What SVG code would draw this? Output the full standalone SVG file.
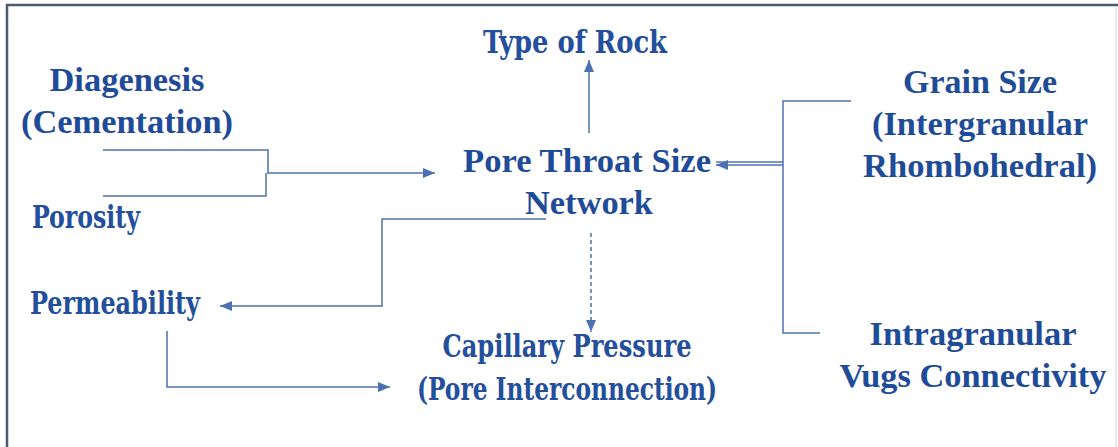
<svg xmlns="http://www.w3.org/2000/svg" width="1118" height="447" viewBox="0 0 1118 447">
<style>
.b{font-family:"Liberation Serif","Times New Roman",serif;font-weight:bold;font-size:34px;fill:#1f4c98;text-anchor:middle}
.d{font-family:"DejaVu Serif Condensed","DejaVu Serif",serif;font-weight:bold;font-size:32px;fill:#234f9c;text-anchor:middle}
.c{fill:none;stroke:#4d70b2;stroke-width:1.5}
</style>
<defs>
<marker id="ah" viewBox="0 0 12 10" refX="12" refY="5" markerWidth="12" markerHeight="10" markerUnits="userSpaceOnUse" orient="auto">
<path d="M0,0 L12,5 L0,10 Z" fill="#4d70b2"/>
</marker>
</defs>
<rect width="1118" height="447" fill="#ffffff"/>
<g id="frame">
<line x1="6" y1="5" x2="1118" y2="5" stroke="#4b5a72" stroke-width="2.5"/>
<line x1="7" y1="4" x2="7" y2="447" stroke="#4b5a72" stroke-width="2.5"/>
<line x1="1116" y1="6" x2="1116" y2="447" stroke="#d3d6dc" stroke-width="1"/>
</g>
<g id="connectors">
<path class="c" d="M103,150 H268 V173"/>
<path class="c" d="M103,196 H266 V173"/>
<path class="c" d="M267,173 H435" marker-end="url(#ah)"/>
<path class="c" d="M589,133 V60" marker-end="url(#ah)"/>
<path class="c" d="M851,101 H783 V333 H820"/>
<path class="c" d="M783,162 H716"/>
<path class="c" d="M783,165 H716" marker-end="url(#ah)"/>
<path class="c" d="M546,219 H382 V306 H220" marker-end="url(#ah)"/>
<path class="c" d="M591,233 V332" stroke-dasharray="4,3" marker-end="url(#ah)"/>
<path class="c" d="M167,331 V387 H390" marker-end="url(#ah)"/>
</g>
<g id="type-of-rock"><text class="d" x="575" y="53" textLength="184" lengthAdjust="spacingAndGlyphs">Type of Rock</text></g>
<g id="diagenesis">
<text class="b" x="127" y="91" textLength="155" lengthAdjust="spacingAndGlyphs">Diagenesis</text>
<text class="b" x="127" y="133" textLength="212" lengthAdjust="spacingAndGlyphs">(Cementation)</text>
</g>
<g id="porosity"><text class="d" x="86" y="228" textLength="108" lengthAdjust="spacingAndGlyphs">Porosity</text></g>
<g id="pore-throat">
<text class="b" x="587" y="172" textLength="248" lengthAdjust="spacingAndGlyphs">Pore Throat Size</text>
<text class="b" x="589" y="214" textLength="128" lengthAdjust="spacingAndGlyphs">Network</text>
</g>
<g id="permeability"><text class="d" x="115" y="314" textLength="170" lengthAdjust="spacingAndGlyphs">Permeability</text></g>
<g id="capillary">
<text class="d" x="567" y="357" textLength="249" lengthAdjust="spacingAndGlyphs">Capillary Pressure</text>
<text class="d" x="567" y="400" textLength="300" lengthAdjust="spacingAndGlyphs">(Pore Interconnection)</text>
</g>
<g id="grain-size">
<text class="b" x="980" y="93" textLength="154" lengthAdjust="spacingAndGlyphs">Grain Size</text>
<text class="b" x="980" y="135" textLength="216" lengthAdjust="spacingAndGlyphs">(Intergranular</text>
<text class="b" x="980" y="177" textLength="234" lengthAdjust="spacingAndGlyphs">Rhombohedral)</text>
</g>
<g id="intragranular">
<text class="b" x="973" y="345" textLength="207" lengthAdjust="spacingAndGlyphs">Intragranular</text>
<text class="b" x="973" y="387" textLength="267" lengthAdjust="spacingAndGlyphs">Vugs Connectivity</text>
</g>
</svg>
